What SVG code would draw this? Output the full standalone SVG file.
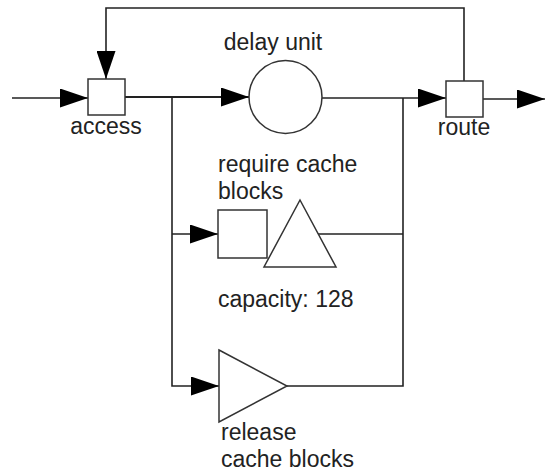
<svg xmlns="http://www.w3.org/2000/svg" width="545" height="472" viewBox="0 0 545 472">
<style>
.n{fill:#fff;stroke:#333;stroke-width:1.5}
.c{fill:none;stroke:#222;stroke-width:1.6}
.t{font-family:"Liberation Sans",Arial,sans-serif;font-size:23px;fill:#222}
</style>
<defs>
<marker id="ar" markerUnits="userSpaceOnUse" markerWidth="28" markerHeight="19" refX="28" refY="9.5" orient="auto">
<path d="M0,0 L28,9.5 L0,19 z" fill="#000"/>
</marker>
</defs>
<rect width="545" height="472" fill="#fff"/>
<g id="connectors">
<path class="c" d="M12,98 H88" marker-end="url(#ar)"/>
<path class="c" d="M464,81 V8 H106 V79" marker-end="url(#ar)"/>
<path class="c" d="M125,97 H249" marker-end="url(#ar)" style="stroke-width:2"/>
<path class="c" d="M172,97 V386 H219" marker-end="url(#ar)"/>
<path class="c" d="M172,234 H218" marker-end="url(#ar)"/>
<path class="c" d="M322,98 H446" marker-end="url(#ar)"/>
<path class="c" d="M403,98 V386 H287"/>
<path class="c" d="M318,234 H403"/>
<path class="c" d="M483,99 H545" marker-end="url(#ar)"/>
</g>
<g id="access">
<rect class="n" x="88" y="79" width="37" height="36"/>
<text class="t" x="106" y="134" text-anchor="middle">access</text>
</g>
<g id="delay">
<circle class="n" cx="285.5" cy="97" r="36.5"/>
<text class="t" x="273" y="50" text-anchor="middle">delay unit</text>
</g>
<g id="route">
<rect class="n" x="446" y="81" width="37" height="36"/>
<text class="t" x="464" y="135" text-anchor="middle">route</text>
</g>
<g id="require">
<rect class="n" x="218" y="210" width="49" height="48"/>
<path class="n" d="M300,200 L336,267 H264 Z"/>
<text class="t" x="218" y="172">require cache</text>
<text class="t" x="218" y="199">blocks</text>
<text class="t" x="218" y="307">capacity: 128</text>
</g>
<g id="release">
<path class="n" d="M219,350 L287,386 L219,422 Z"/>
<text class="t" x="221" y="440">release</text>
<text class="t" x="221" y="467">cache blocks</text>
</g>
</svg>
